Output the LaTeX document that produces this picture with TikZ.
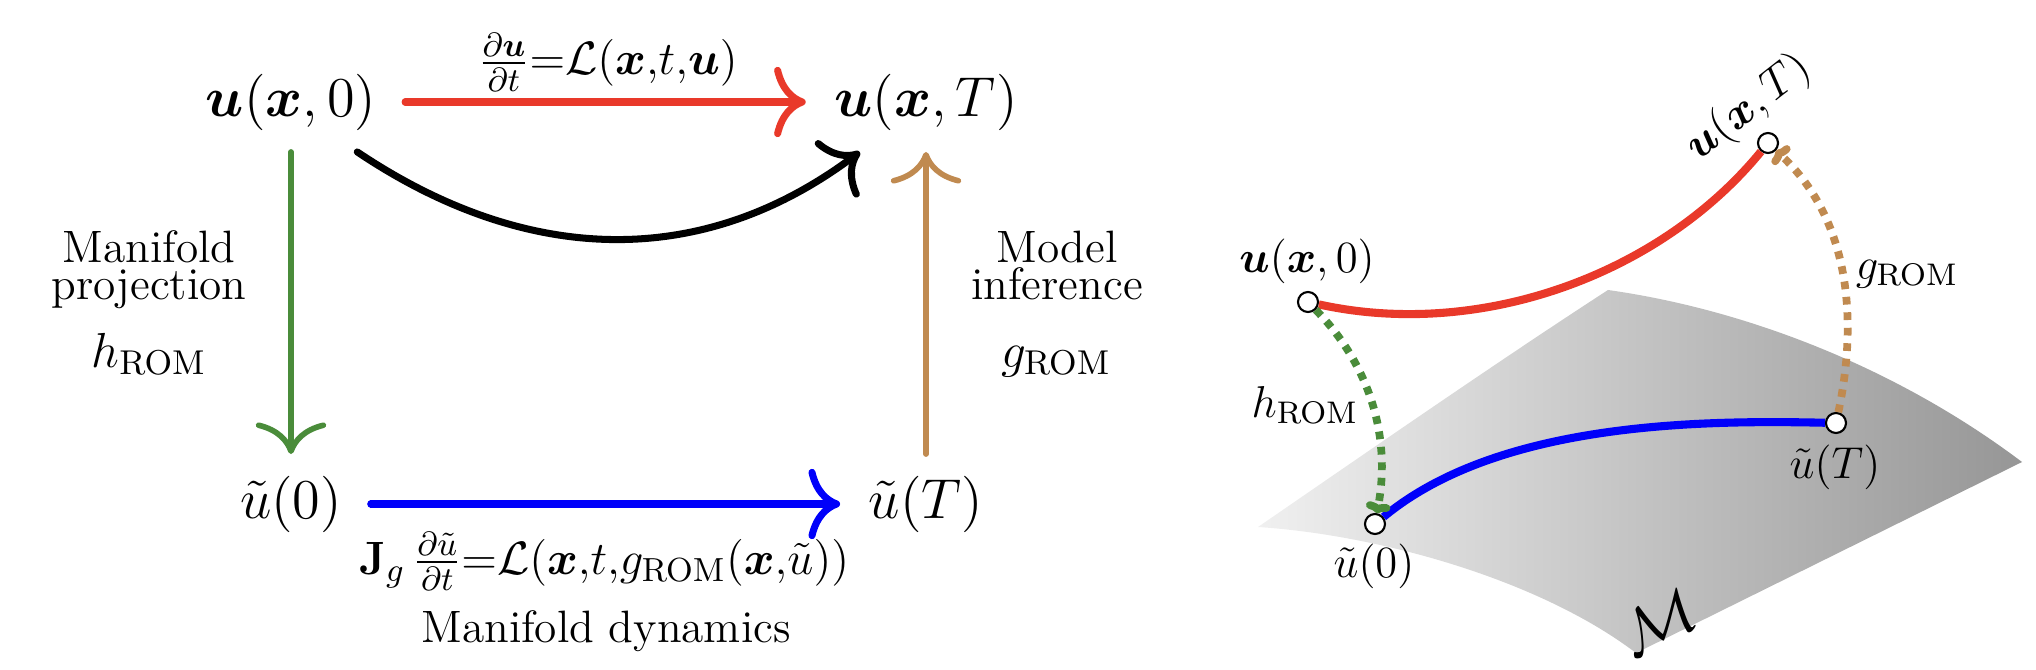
\RequirePackage{fix-cm}
\documentclass[tikz,border=0pt]{standalone}
\usepackage{amsmath}
\usetikzlibrary{arrows.meta}
\definecolor{cred}{RGB}{233,57,42}
\definecolor{cgreen}{RGB}{74,140,58}
\definecolor{cbrown}{RGB}{192,138,80}
\definecolor{cblue}{RGB}{0,0,250}
\definecolor{sfl}{RGB}{240,240,240}
\definecolor{sfr}{RGB}{150,150,150}
\begin{document}
\begin{tikzpicture}[x=0.01cm,y=-0.01cm,
  mainlab/.style={font=\fontsize{16}{19}\selectfont, inner xsep=8pt, inner ysep=6pt},
  arrlab/.style={font=\fontsize{19}{22}\selectfont, inner sep=0pt, anchor=base},
  txt/.style={font=\fontsize{12.9}{15}\selectfont, inner sep=0pt, anchor=base},
  mlab/.style={font=\fontsize{14}{16}\selectfont, inner sep=0pt, anchor=base},
  rlab/.style={font=\fontsize{12.7}{15}\selectfont, inner sep=0pt, anchor=base},
  bigarrow/.style={line width=2pt, line cap=round, -{Computer Modern Rightarrow[length=9pt,width=20pt]}},
  thinarrow/.style={bigarrow, line width=1.6pt},
  rcurve/.style={line width=2.3pt},
  dotc/.style={line width=2.2pt, dash pattern=on 2.2pt off 2.2pt, -{Computer Modern Rightarrow[length=3pt,width=7pt]}},
  pt/.style={circle, draw=black, fill=white, line width=0.6pt, minimum size=0.2cm, inner sep=0pt},
]
\useasboundingbox (0,0) rectangle (2036,670);
% ---------- left diagram ----------
\node[mainlab] (u0) at (291,102) {$\boldsymbol{u}(\boldsymbol{x},0)$};
\node[mainlab] (uT) at (926,102) {$\boldsymbol{u}(\boldsymbol{x},T)$};
\node[mainlab] (v0) at (291,504) {$\tilde{u}(0)$};
\node[mainlab] (vT) at (926,504) {$\tilde{u}(T)$};
\draw[bigarrow,cred] (u0) -- (uT);
\draw[bigarrow,cblue] (v0) -- (vT);
\draw[thinarrow,cgreen] (u0) -- (v0);
\draw[thinarrow,cbrown] (vT) -- (uT);
\draw[bigarrow,black] (u0.-37) .. controls (524,264) and (700,272) .. (uT.-143);
\node[arrlab] (lred) at (608,75) {$\scriptstyle \frac{\partial\boldsymbol{u}}{\partial t}=\mathcal{L}(\boldsymbol{x},t,\boldsymbol{u})$};
\node[arrlab] (lblue) at (604,574) {$\scriptstyle \mathbf{J}_g\,\frac{\partial\tilde{u}}{\partial t}=\mathcal{L}(\boldsymbol{x},t,g_{\mathrm{ROM}}(\boldsymbol{x},\tilde{u}))$};
\node[txt] (tdyn) at (606,642) {Manifold dynamics};
\node[txt] (tman) at (149,262) {Manifold};
\node[txt] (tproj) at (149,300) {projection};
\node[mlab] (thl) at (149,367) {$h_{\mathrm{ROM}}$};
\node[txt] (tmod) at (1057,262) {Model};
\node[txt] (tinf) at (1057,300) {inference};
\node[mlab] (tgl) at (1056,367) {$g_{\mathrm{ROM}}$};
% ---------- right diagram ----------
\shade[left color=sfl, right color=sfr] (1608,290) .. controls (1750,310) and (1900,370) .. (2022,462) -- (1636,653) .. controls (1540,580) and (1380,535) .. (1258,527) .. controls (1370,450) and (1500,360) .. (1608,290) -- cycle;
\node[pt] (r0) at (1308,302) {};
\node[pt] (rT) at (1768,143) {};
\node[pt] (q0) at (1375,524) {};
\node[pt] (qT) at (1836,423) {};
\draw[rcurve,cred] (r0) .. controls (1480,340) and (1660,275) .. (rT);
\draw[rcurve,cblue] (q0) .. controls (1498,422) and (1700,420) .. (qT);
\draw[dotc,cgreen] (r0) .. controls (1365,360) and (1392,430) .. (q0);
\draw[dotc,cbrown] (qT) .. controls (1858,320) and (1850,220) .. (rT);
\node[rlab] (lr0) at (1307,273) {$\boldsymbol{u}(\boldsymbol{x},0)$};
\node[rlab, rotate=38, anchor=center] (lrT) at (1749,108) {$\boldsymbol{u}(\boldsymbol{x},T)$};
\node[rlab] (lq0) at (1374,577) {$\tilde{u}(0)$};
\node[rlab] (lqT) at (1835,478) {$\tilde{u}(T)$};
\node[rlab] (lh) at (1305,417) {$h_{\mathrm{ROM}}$};
\node[rlab] (lg) at (1907,279) {$g_{\mathrm{ROM}}$};
\node[font=\fontsize{18}{20}\selectfont, rotate=26, inner sep=0pt] (mm) at (1658,622) {$\mathcal{M}$};
\end{tikzpicture}
\end{document}
